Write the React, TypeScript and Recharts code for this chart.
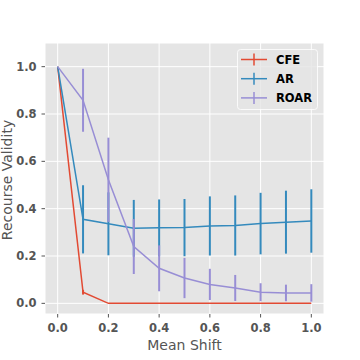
import React from 'react';
import { LineChart, Line, XAxis, YAxis, CartesianGrid, ErrorBar } from 'recharts';

const shifts = [0, 0.1, 0.2, 0.3, 0.4, 0.5, 0.6, 0.7, 0.8, 0.9, 1.0];
const cfe = [1.0, 0.047, 0, 0, 0, 0, 0, 0, 0, 0, 0];
const cfeErr = [0, 0.01, 0, 0, 0, 0, 0, 0, 0, 0, 0];
const ar = [1.0, 0.355, 0.336, 0.317, 0.319, 0.32, 0.327, 0.329, 0.337, 0.343, 0.348];
const arErr = [0, 0.144, 0.133, 0.12, 0.12, 0.121, 0.125, 0.127, 0.13, 0.133, 0.134];
const roar = [1.0, 0.858, 0.522, 0.24, 0.148, 0.107, 0.08, 0.065, 0.047, 0.044, 0.044];
const roarErr = [0, 0.133, 0.178, 0.116, 0.097, 0.085, 0.066, 0.055, 0.038, 0.035, 0.037];

const xTicks = [0, 0.2, 0.4, 0.6, 0.8, 1.0];
const yTicks = [0, 0.2, 0.4, 0.6, 0.8, 1.0];

const series = [
  { key: 'cfe', err: 'cfeErr', name: 'CFE', color: '#E24A33' },
  { key: 'ar', err: 'arErr', name: 'AR', color: '#348ABD' },
  { key: 'roar', err: 'roarErr', name: 'ROAR', color: '#988ED5' },
];

const data = shifts.map((s, i) => ({
  shift: s,
  cfe: cfe[i],
  cfeErr: cfeErr[i],
  ar: ar[i],
  arErr: arErr[i],
  roar: roar[i],
  roarErr: roarErr[i],
}));

const FONT = 'DejaVu Sans';

export default function App() {
  return (
    <div style={{ position: 'absolute', left: 0, top: 0, width: 360, height: 360, background: '#fff', fontFamily: FONT }}>
      <LineChart width={360} height={360} data={data} margin={{ top: 43, right: 36, bottom: 0, left: 0 }}>
        <CartesianGrid fill="#E5E5E5" stroke="#ffffff" strokeWidth={1} />
        <XAxis
          type="number"
          dataKey="shift"
          domain={[-0.05, 1.05]}
          ticks={xTicks}
          allowDataOverflow
          axisLine={false}
          tickLine={{ stroke: '#555555' }}
          tickSize={3.5}
          tickMargin={6}
          height={46}
          tick={{ fill: '#555555', fontSize: 11.5, fontWeight: 'bold', fontFamily: FONT }}
          tickFormatter={(v: number) => v.toFixed(1)}
          label={{
            content: () => (
              <text x={184.5} y={350} textAnchor="middle" fill="#555555" fontSize={14} fontFamily={FONT}>
                Mean Shift
              </text>
            ),
          }}
        />
        <YAxis
          type="number"
          domain={[-0.045, 1.1]}
          ticks={yTicks}
          allowDataOverflow
          axisLine={false}
          tickLine={{ stroke: '#555555' }}
          tickSize={3.5}
          tickMargin={5}
          width={45}
          tick={{ fill: '#555555', fontSize: 11.5, fontWeight: 'bold', fontFamily: FONT }}
          tickFormatter={(v: number) => v.toFixed(1)}
          label={{
            content: () => (
              <text x={12} y={180} transform="rotate(-90 12 180)" textAnchor="middle" fill="#555555" fontSize={14} fontFamily={FONT}>
                Recourse Validity
              </text>
            ),
          }}
        />
        {series.map((s) => (
          <Line
            key={s.key}
            type="linear"
            dataKey={s.key}
            stroke={s.color}
            strokeWidth={1.5}
            dot={false}
            activeDot={false}
            isAnimationActive={false}
          >
            <ErrorBar dataKey={s.err} width={0} stroke={s.color} strokeWidth={2} direction="y" isAnimationActive={false} />
          </Line>
        ))}
      </LineChart>
      <svg width={360} height={360} style={{ position: 'absolute', left: 0, top: 0, pointerEvents: 'none' }}>
        <rect x={237.5} y={49.5} width={80} height={60} rx={3} ry={3} fill="rgba(229,229,229,0.8)" stroke="rgba(255,255,255,0.8)" strokeWidth={1} />
        {series.map((s, i) => {
          const cy = 59.5 + i * 19.2;
          return (
            <g key={s.key}>
              <line x1={241} x2={267} y1={cy} y2={cy} stroke={s.color} strokeWidth={1.5} />
              <line x1={254} x2={254} y1={cy - 6} y2={cy + 6} stroke={s.color} strokeWidth={1.5} />
              <text x={276} y={cy + 4.1} fill="#000" fontSize={11.5} fontWeight="bold" fontFamily={FONT}>
                {s.name}
              </text>
            </g>
          );
        })}
      </svg>
    </div>
  );
}
